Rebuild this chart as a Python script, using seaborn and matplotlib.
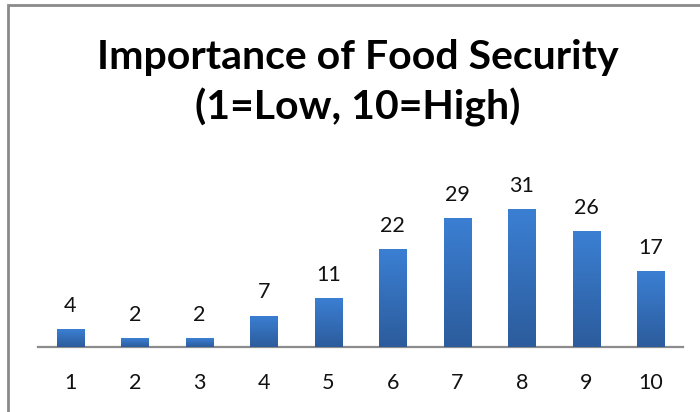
import numpy as np
import pandas as pd
import matplotlib
matplotlib.use('Agg')
import matplotlib.pyplot as plt
from matplotlib.colors import LinearSegmentedColormap
from matplotlib.patches import Rectangle
import seaborn as sns

# Data
ratings = ['1', '2', '3', '4', '5', '6', '7', '8', '9', '10']
counts = [4, 2, 2, 7, 11, 22, 29, 31, 26, 17]
title = 'Importance of Food Security\n(1=Low, 10=High)'

df = pd.DataFrame({'rating': ratings, 'count': counts})

sns.set_style('white')
plt.rcParams['font.family'] = ['Lato', 'DejaVu Sans']

fig = plt.figure(figsize=(7, 4.12), dpi=100)
ax = fig.add_axes([38 / 700, 65 / 412, 645 / 700, 178 / 412])

sns.barplot(data=df, x='rating', y='count', color='#3a78c8', width=0.42,
            saturation=1, ax=ax)

# vertical gradient on each bar (lighter top, darker bottom)
grad = LinearSegmentedColormap.from_list('bar', ['#2c5c9c', '#3b7fd3'])
for bar in ax.patches:
    x0, y0 = bar.get_x(), bar.get_y()
    w, h = bar.get_width(), bar.get_height()
    im = ax.imshow(np.linspace(0, 1, 100).reshape(-1, 1), cmap=grad,
                   origin='lower', aspect='auto',
                   extent=[x0, x0 + w, y0, y0 + h], zorder=3)
    im.set_clip_path(bar)

for i, v in enumerate(counts):
    ax.text(i, v + 3.0, str(v), ha='center', va='bottom', fontsize=15.5,
            color='#111111', clip_on=False)

ax.set_xlim(-0.5, 9.5)
ax.set_ylim(0, 40)
ax.set_xlabel('')
ax.set_ylabel('')
ax.set_yticks([])
ax.tick_params(axis='x', length=0, labelsize=15.5, pad=19, colors='#111111')
for s in ['top', 'right', 'left']:
    ax.spines[s].set_visible(False)
ax.spines['bottom'].set_color('#8c8c8c')
ax.spines['bottom'].set_linewidth(1.6)

fig.text(358 / 700, 1 - 83 / 412, title, ha='center', va='center',
         fontsize=29.5, fontweight='bold', color='black', linespacing=1.38)

# outer chart border (top and left visible in the reference)
fig.patches.append(Rectangle((8 / 700, -0.1), 1.2, 1 - 5 / 412 + 0.1,
                             transform=fig.transFigure, fill=False,
                             edgecolor='#8a8a8a', linewidth=2))

fig.savefig('out.png', dpi=100)
